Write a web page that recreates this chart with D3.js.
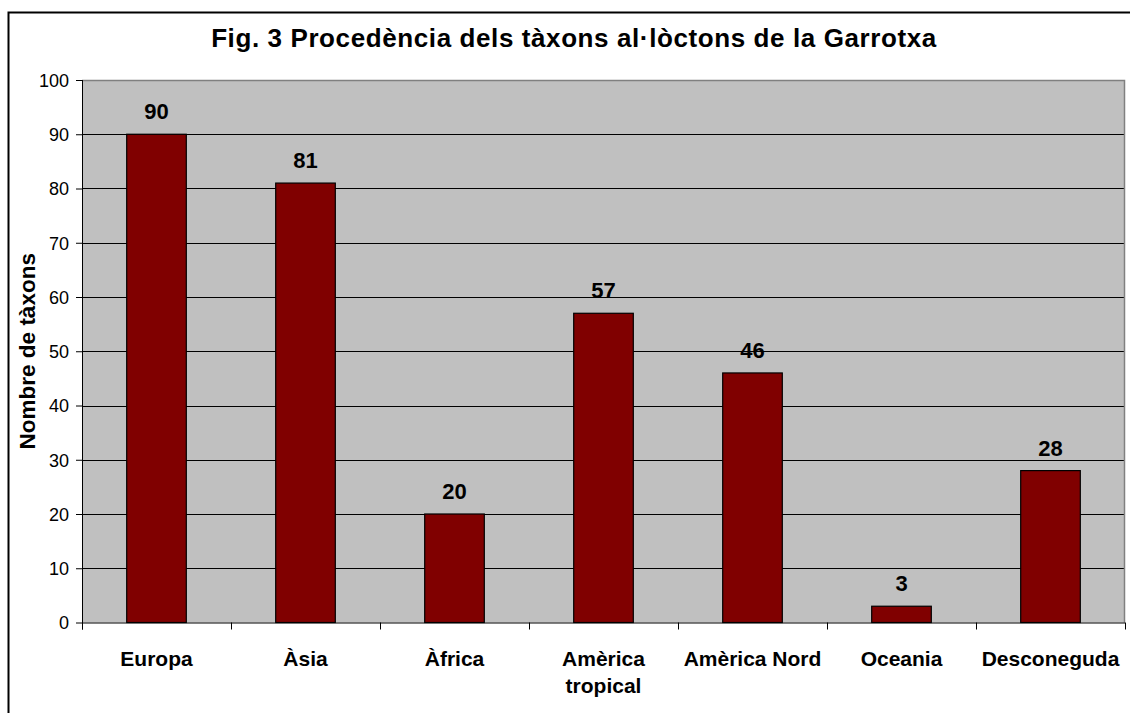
<!DOCTYPE html>
<html>
<head>
<meta charset="utf-8">
<script src="https://cdn.jsdelivr.net/npm/d3@7"></script>
<style>
  body { margin: 0; background: #fff; }
  svg text { font-family: Arial, "Liberation Sans", sans-serif; fill: #000; }
</style>
</head>
<body>
<div id="chart"></div>
<script>
const categories = ["Europa", "Àsia", "Àfrica", "Amèrica tropical", "Amèrica Nord", "Oceania", "Desconeguda"];
const values = [90, 81, 20, 57, 46, 3, 28];
const yTicks = [0, 10, 20, 30, 40, 50, 60, 70, 80, 90, 100];
const titleText = "Fig. 3 Procedència dels tàxons al·lòctons de la Garrotxa";
const yLabel = "Nombre de tàxons";

const W = 1130, H = 713;
let margin = { top: 80, right: 5, bottom: 91, left: 82 },
    width = 1125 - margin.left,
    height = 622.5 - margin.top;

const svg = d3.select("#chart").append("svg")
    .attr("width", W)
    .attr("height", H);

// outer chart frame (runs past the window on the right and bottom)
svg.append("rect")
    .attr("x", 8.5).attr("y", 12.5)
    .attr("width", 1140).attr("height", 720)
    .attr("fill", "#fff")
    .attr("stroke", "#000")
    .attr("stroke-width", 2);

svg.append("text")
    .attr("x", 574)
    .attr("y", 47)
    .attr("text-anchor", "middle")
    .style("font-size", "26px")
    .style("font-weight", "bold")
    .style("letter-spacing", "0.6px")
    .text(titleText);

const chart = svg.append("g")
    .attr("transform", "translate(" + margin.left + "," + margin.top + ")");

var x = d3.scaleBand().domain(categories).range([0, width])
    .paddingInner(0.6).paddingOuter(0.3);
var y = d3.scaleLinear().domain([0, 100]).range([height, 0]);

// plot area
chart.append("rect")
    .attr("width", width).attr("height", height)
    .attr("fill", "#c0c0c0");

// gridlines
chart.append("g")
    .selectAll("line")
    .data(yTicks.filter(d => d > 0 && d < 100))
    .enter().append("line")
    .attr("x1", 0).attr("x2", width)
    .attr("y1", d => Math.round(y(d)) + 0.5)
    .attr("y2", d => Math.round(y(d)) + 0.5)
    .attr("stroke", "#000")
    .attr("stroke-width", 1);

// plot border top/right
chart.append("path")
    .attr("d", "M0,0.5H" + (width - 0.5) + "V" + height)
    .attr("fill", "none")
    .attr("stroke", "#808080")
    .attr("stroke-width", 1.5);

// bars
chart.selectAll(".bar")
    .data(values)
    .enter().append("rect")
    .attr("class", "bar")
    .attr("x", (d, i) => x(categories[i]))
    .attr("y", d => y(d))
    .attr("width", x.bandwidth())
    .attr("height", d => height - y(d))
    .attr("fill", "#800000")
    .attr("stroke", "#000")
    .attr("stroke-width", 1.2);

// value labels
chart.selectAll(".val")
    .data(values)
    .enter().append("text")
    .attr("class", "val")
    .attr("x", (d, i) => x(categories[i]) + x.bandwidth() / 2)
    .attr("y", d => y(d) - 15)
    .attr("text-anchor", "middle")
    .style("font-size", "22px")
    .style("font-weight", "bold")
    .text(d => d);

// y axis
var yAxis = d3.axisLeft(y).tickValues(yTicks).tickSize(6).tickPadding(7);
const gy = chart.append("g").call(yAxis);
gy.select(".domain").attr("stroke", "#000").attr("d", "M0.5,0V" + (height + 7));
gy.selectAll(".tick line").attr("stroke", "#000");
gy.selectAll(".tick text")
    .style("font-size", "18px")
    .attr("dy", "0.36em");

// x axis: ticks at category boundaries
const step = x.step();
const bounds = d3.range(categories.length + 1).map(i => i * width / categories.length);
const gx = chart.append("g").attr("transform", "translate(0," + height + ")");
gx.append("line")
    .attr("x1", 0).attr("x2", width)
    .attr("y1", 0.5).attr("y2", 0.5)
    .attr("stroke", "#000");
gx.selectAll(".bt")
    .data(bounds)
    .enter().append("line")
    .attr("x1", d => Math.round(d) + 0.5).attr("x2", d => Math.round(d) + 0.5)
    .attr("y1", 0).attr("y2", 7)
    .attr("stroke", "#000");

const labels = gx.selectAll(".cat")
    .data(categories)
    .enter().append("text")
    .attr("class", "cat")
    .attr("text-anchor", "middle")
    .attr("y", 43)
    .style("font-size", "21px")
    .style("font-weight", "bold")
    .attr("x", d => x(d) + x.bandwidth() / 2)
    .text(d => d);

// wrap labels wider than one category slot
labels.each(function(d) {
    const t = d3.select(this);
    if (this.getComputedTextLength() > step - 4) {
        const words = d.split(" ");
        const cx = t.attr("x");
        t.text(null);
        words.forEach((w, i) => {
            t.append("tspan").attr("x", cx).attr("dy", i ? 27 : 0).text(w);
        });
    }
});

// y axis title
svg.append("text")
    .attr("transform", "translate(35," + (margin.top + height / 2) + ") rotate(-90)")
    .attr("text-anchor", "middle")
    .style("font-size", "22.5px")
    .style("font-weight", "bold")
    .text(yLabel);
</script>
</body>
</html>
